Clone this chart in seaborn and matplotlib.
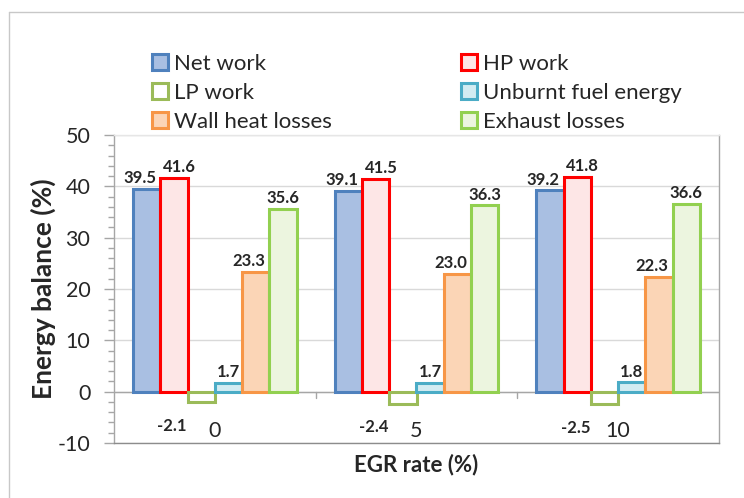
import numpy as np
import pandas as pd
import matplotlib.pyplot as plt
import seaborn as sns
from matplotlib.lines import Line2D
from matplotlib.ticker import MultipleLocator

# ---------------- data ----------------
egr_rates = ["0", "5", "10"]
components = ["Net work", "HP work", "LP work", "Unburnt fuel energy",
              "Wall heat losses", "Exhaust losses"]

net_work = [39.5, 39.1, 39.2]
hp_work = [41.6, 41.5, 41.8]
lp_work = [-2.1, -2.4, -2.5]
unburnt = [1.7, 1.7, 1.8]
wall_heat = [23.3, 23.0, 22.3]
exhaust = [35.6, 36.3, 36.6]

series = [net_work, hp_work, lp_work, unburnt, wall_heat, exhaust]

df = pd.DataFrame({
    "EGR": np.tile(egr_rates, len(components)),
    "component": np.repeat(components, len(egr_rates)),
    "value": np.concatenate(series),
})

# ---------------- style ----------------
face_colors = ["#a9bfe2", "#fde6e6", "#ffffff", "#d3ecf2", "#fbd5b6", "#ecf5df"]
edge_colors = ["#4f81bd", "#ff0000", "#9bbb59", "#4bacc6", "#f79646", "#92d050"]
# horizontal shift of each data label (points)
label_dx = [-5, 4, -21, 0, -5, 0]

sns.set_style("white")
plt.rcParams["font.family"] = ["Lato", "DejaVu Sans"]
plt.rcParams["axes.unicode_minus"] = False

fig = plt.figure(figsize=(7.44, 4.98), dpi=100)
ax = fig.add_axes([114 / 744, 1 - 443 / 498, 605 / 744, 308 / 498])

sns.barplot(data=df, x="EGR", y="value", hue="component",
            order=egr_rates, hue_order=components,
            palette=face_colors, width=0.81, linewidth=2.2,
            legend=False, ax=ax, zorder=3)

for i, cont in enumerate(ax.containers):
    for bar, val in zip(cont.patches, series[i]):
        bar.set_edgecolor(edge_colors[i])
        bar.set_facecolor(face_colors[i])
        bar.set_linewidth(2.2)
        bar.set_joinstyle("miter")
        x = bar.get_x() + bar.get_width() / 2
        if val >= 0:
            ax.annotate(f"{val:.1f}", (x, val), xytext=(label_dx[i], 2),
                        textcoords="offset points", ha="center", va="bottom",
                        fontsize=12, fontweight="bold", zorder=5)
        else:
            ax.annotate(f"{val:.1f}", (x, val), xytext=(label_dx[i], -11),
                        textcoords="offset points", ha="center", va="top",
                        fontsize=12, fontweight="bold", zorder=5)

# ---------------- axes ----------------
ax.set_ylim(-10, 50)
ax.set_xlim(-0.5, 2.5)
ax.yaxis.set_major_locator(MultipleLocator(10))
ax.yaxis.set_minor_locator(MultipleLocator(2))
ax.grid(axis="y", which="major", color="#d9d9d9", linewidth=1, zorder=0)
ax.set_axisbelow(True)

ax.tick_params(axis="y", which="major", length=7, width=1, color="#a6a6a6",
               labelsize=15.5, pad=10, left=True)
ax.tick_params(axis="y", which="minor", length=4, width=1, color="#a6a6a6",
               left=True)
ax.tick_params(axis="x", length=0, labelsize=15.5, pad=-16)

# zero line with category separators
ax.axhline(0, color="#a6a6a6", linewidth=1, zorder=2)
for xb in [0.5, 1.5]:
    ax.plot([xb, xb], [0, -1.2], color="#a6a6a6", linewidth=1, zorder=2)

for side in ["left", "right", "bottom", "top"]:
    ax.spines[side].set_visible(True)
    ax.spines[side].set_linewidth(1)
ax.spines["left"].set_color("#a6a6a6")
ax.spines["right"].set_color("#a6a6a6")
ax.spines["bottom"].set_color("#8c8c8c")
ax.spines["top"].set_color("#e6e6e6")

ax.set_xlabel("EGR rate (%)", fontsize=16, fontweight="bold", labelpad=8)
ax.set_ylabel("Energy balance (%)", fontsize=19, fontweight="bold", labelpad=1)

# ---------------- legend ----------------
handles = [plt.Rectangle((0, 0), 1, 1, facecolor=face_colors[i],
                         edgecolor=edge_colors[i], linewidth=2.2)
           for i in range(len(components))]
# reorder so that ncol=2 fills row by row
order = [0, 2, 4, 1, 3, 5]
fig.legend([handles[i] for i in order], [components[i] for i in order],
           ncol=2, loc="upper left", bbox_to_anchor=(152 / 744, 1 - 54 / 498),
           frameon=False, fontsize=16, handlelength=0.7, handleheight=0.7,
           handletextpad=0.3, columnspacing=5.8, labelspacing=0.4,
           borderpad=0, borderaxespad=0)

# outer chart border (cropped at right and bottom)
fig.add_artist(Line2D([9 / 744, 9 / 744], [0, 1 - 12 / 498],
                      transform=fig.transFigure, color="#c8c8c8", linewidth=1))
fig.add_artist(Line2D([9 / 744, 1], [1 - 12 / 498, 1 - 12 / 498],
                      transform=fig.transFigure, color="#c8c8c8", linewidth=1))

fig.savefig("out.png", dpi=100)
